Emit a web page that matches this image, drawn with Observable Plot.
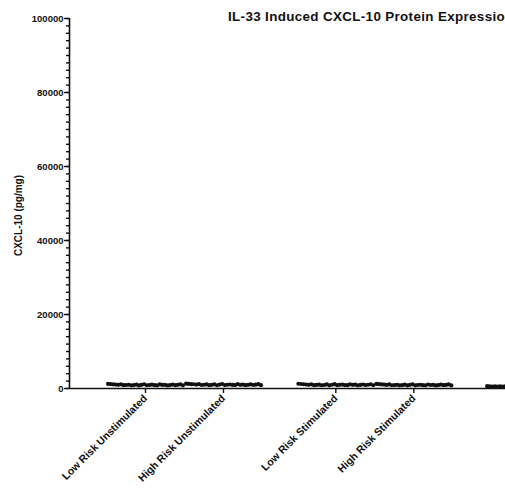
<!DOCTYPE html>
<html>
<head>
<meta charset="utf-8">
<script src="https://cdn.jsdelivr.net/npm/d3@7"></script>
<script src="https://cdn.jsdelivr.net/npm/@observablehq/plot@0.6"></script>
<style>
  html, body { margin: 0; padding: 0; background: #fff; overflow: hidden; }
  #chart { position: relative; width: 505px; height: 490px; }
  #title {
    position: absolute; left: 228px; top: 9px;
    font: bold 13.4px "Liberation Sans", Arial, sans-serif;
    letter-spacing: 0.35px;
    white-space: nowrap; color: #111;
  }
</style>
</head>
<body>
<div id="chart"><div id="title">IL-33 Induced CXCL-10 Protein Expression</div></div>
<script>
// Column groups, in plotting order (the last column runs past the right edge)
const categories = [
  "Low Risk Unstimulated",
  "High Risk Unstimulated",
  "Low Risk Stimulated",
  "High Risk Stimulated",
  "IL-33"
];

// CXCL-10 concentration per sample, pg/mg
const lowRiskUnstimulated = [1250, 1190, 1120, 1050, 980, 1120, 890, 940, 1010, 860, 920, 1070, 830, 990, 1150, 880, 950, 1030, 910, 870, 1090, 960, 1000, 840, 930, 1060, 900, 980, 1130, 850];
const highRiskUnstimulated = [1300, 1240, 1170, 1150, 1060, 1180, 950, 1020, 1100, 900, 990, 1140, 880, 1050, 1210, 930, 1010, 1080, 960, 920, 1160, 1000, 1070, 890, 980, 1120, 940, 1030, 1190, 910];
const lowRiskStimulated = [1280, 1210, 1150, 1080, 1000, 1140, 910, 970, 1040, 880, 950, 1100, 860, 1020, 1170, 900, 980, 1060, 930, 890, 1110, 990, 1030, 870, 960, 1080, 920, 1010, 1150, 880];
const highRiskStimulated = [1230, 1180, 1110, 1060, 970, 1100, 880, 930, 990, 850, 910, 1050, 820, 980, 1130, 870, 940, 1020, 900, 860, 1080, 950, 990, 830, 920, 1050, 890, 970, 1120, 840];
const il33Only = [620, 580, 540, 600, 510, 570, 530, 590, 550, 500, 560, 610, 520, 580, 540, 600, 530, 570, 510, 560, 590, 540, 620, 500, 550, 580, 530, 600, 520, 570];

const yMajorTicks = [0, 20000, 40000, 60000, 80000, 100000];

const groups = [lowRiskUnstimulated, highRiskUnstimulated, lowRiskStimulated, highRiskStimulated, il33Only];

// Column centres along x: two pairs with a wider gap between them
const columnPos = [0, 1, 2.44, 3.44, 4.86];
const columnWidth = 0.96;

// Points within a column are laid side by side across the column width
const rows = groups.flatMap((values, g) => {
  const n = values.length;
  const step = columnWidth / (n - 1);
  return values.map((v, i) => ({
    group: categories[g],
    x: columnPos[g] + (i - (n - 1) / 2) * step,
    value: v
  }));
});

const font = `"Liberation Sans", Arial, sans-serif`;

const chart = Plot.plot({
  width: 505,
  height: 490,
  marginLeft: 69,
  marginRight: 0,
  marginTop: 18,
  marginBottom: 102,
  style: { fontFamily: font, fontSize: "9.5px", fontWeight: "bold", color: "#111", background: "#fff" },
  x: { domain: [-0.974, 4.615] },
  y: { domain: [0, 100000] },
  marks: [
    Plot.axisY({
      ticks: d3.range(0, 100001, 2000),
      tickSize: 3,
      strokeWidth: 1.4,
      text: null,
      label: null
    }),
    Plot.axisY({
      ticks: yMajorTicks,
      tickSize: 5,
      tickPadding: 1,
      strokeWidth: 1.4,
      tickFormat: d => String(d),
      label: null
    }),
    // rotated axis title on the left
    Plot.text(["CXCL-10 (pg/mg)"], {
      frameAnchor: "left",
      textAnchor: "middle",
      dx: -51,
      dy: 12,
      rotate: -90,
      fontSize: 10,
      fontWeight: "bold",
      fill: "#111"
    }),
    Plot.axisX({
      ticks: columnPos.slice(0, 4),
      tickFormat: (d) => categories[columnPos.indexOf(d)],
      tickRotate: -45,
      tickSize: 5,
      tickPadding: 3,
      strokeWidth: 1.4,
      fontSize: 10.5,
      label: null
    }),
    Plot.ruleX([-0.974], { stroke: "#111", strokeWidth: 1.6 }),
    Plot.ruleY([0], { stroke: "#111", strokeWidth: 1.6 }),
    Plot.dot(rows, { x: "x", y: "value", r: 2.1, fill: "#111", stroke: "none", clip: true })
  ]
});

document.getElementById("chart").prepend(chart);
</script>
</body>
</html>
